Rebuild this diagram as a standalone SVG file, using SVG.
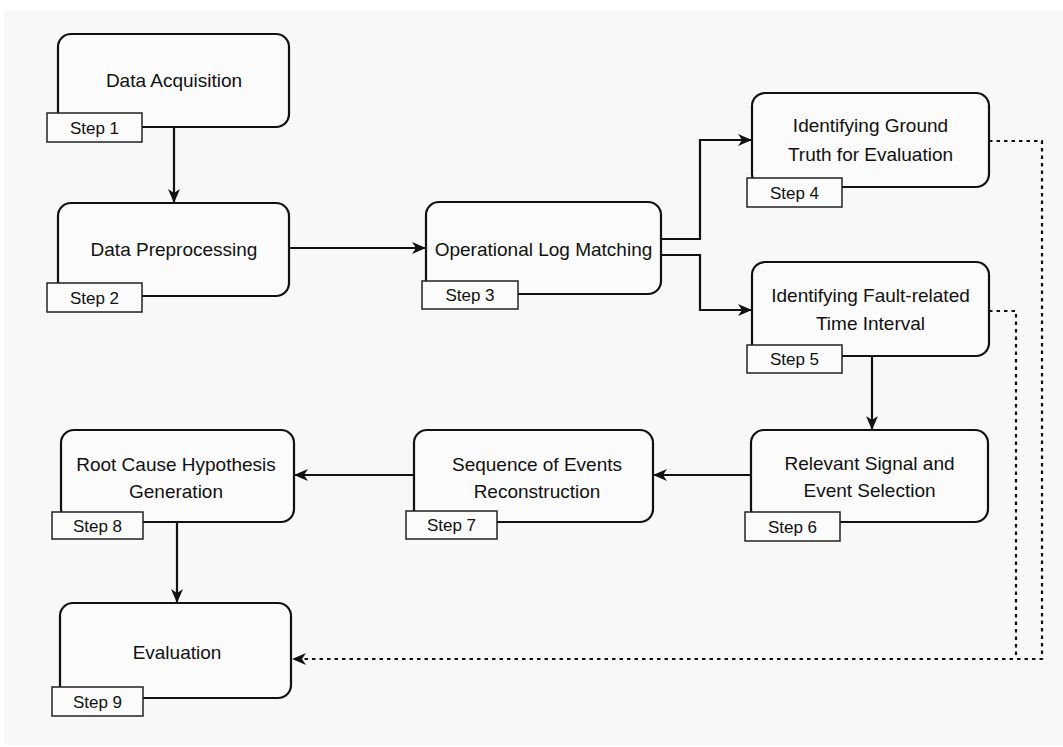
<svg xmlns="http://www.w3.org/2000/svg" width="1063" height="747" viewBox="0 0 1063 747">
<defs>
<style>
.node{fill:#fbfbfb;stroke:#111;stroke-width:2.2}
.step{fill:#fbfbfb;stroke:#222;stroke-width:1.5}
.t{font-family:"Liberation Sans",Arial,sans-serif;font-size:19px;fill:#111;text-anchor:middle}
.s{font-family:"Liberation Sans",Arial,sans-serif;font-size:17px;fill:#111;text-anchor:middle}
.c{fill:none;stroke:#111;stroke-width:2.2}
.d{fill:none;stroke:#111;stroke-width:2.2;stroke-dasharray:3.5 4}
</style>
<marker id="ah" markerUnits="userSpaceOnUse" markerWidth="14" markerHeight="12" refX="13" refY="6" orient="auto">
<path d="M0,0 L14,6 L0,12 L4,6 z" fill="#111"/>
</marker>
</defs>
<rect x="0" y="0" width="1063" height="747" fill="#ffffff"/>
<rect x="4" y="10" width="1059" height="735" fill="#f8f8f8"/>

<g id="connectors">
<path class="c" d="M174,127 V202" marker-end="url(#ah)"/>
<path class="c" d="M289,248 H425" marker-end="url(#ah)"/>
<path class="c" d="M661,239 H700 V140 H751" marker-end="url(#ah)"/>
<path class="c" d="M661,255 H700 V310 H751" marker-end="url(#ah)"/>
<path class="c" d="M872,356 V429" marker-end="url(#ah)"/>
<path class="c" d="M751,475 H654" marker-end="url(#ah)"/>
<path class="c" d="M414,475 H295" marker-end="url(#ah)"/>
<path class="c" d="M177,522 V602" marker-end="url(#ah)"/>
<path class="d" d="M989,141 H1042 V659 H293" marker-end="url(#ah)"/>
<path class="d" d="M989,311 H1016 V659"/>
</g>

<g id="step1">
<rect class="node" x="58" y="34" width="231" height="93" rx="13"/>
<text class="t" x="174" y="87">Data Acquisition</text>
<rect class="step" x="47" y="113" width="95" height="29"/>
<text class="s" x="94.5" y="133.5">Step 1</text>
</g>

<g id="step2">
<rect class="node" x="58" y="203" width="231" height="93" rx="13"/>
<text class="t" x="174" y="256">Data Preprocessing</text>
<rect class="step" x="47" y="283" width="95" height="29"/>
<text class="s" x="94.5" y="303.5">Step 2</text>
</g>

<g id="step3">
<rect class="node" x="426" y="202" width="235" height="92" rx="13"/>
<text class="t" x="543.5" y="256">Operational Log Matching</text>
<rect class="step" x="422" y="281" width="96" height="28"/>
<text class="s" x="470" y="301">Step 3</text>
</g>

<g id="step4">
<rect class="node" x="752" y="93" width="237" height="94" rx="13"/>
<text class="t" x="870.5" y="132">Identifying Ground</text>
<text class="t" x="870.5" y="161">Truth for Evaluation</text>
<rect class="step" x="747" y="178" width="95" height="29"/>
<text class="s" x="794.5" y="198.5">Step 4</text>
</g>

<g id="step5">
<rect class="node" x="752" y="262" width="237" height="94" rx="13"/>
<text class="t" x="870.5" y="302">Identifying Fault-related</text>
<text class="t" x="870.5" y="330">Time Interval</text>
<rect class="step" x="747" y="345" width="95" height="28"/>
<text class="s" x="794.5" y="365">Step 5</text>
</g>

<g id="step6">
<rect class="node" x="751" y="430" width="237" height="92" rx="13"/>
<text class="t" x="869.5" y="470">Relevant Signal and</text>
<text class="t" x="869.5" y="497">Event Selection</text>
<rect class="step" x="745" y="512" width="95" height="29"/>
<text class="s" x="792.5" y="532.5">Step 6</text>
</g>

<g id="step7">
<rect class="node" x="414" y="430" width="239" height="92" rx="13"/>
<text class="t" x="537" y="471">Sequence of Events</text>
<text class="t" x="537" y="498">Reconstruction</text>
<rect class="step" x="406" y="511" width="91" height="28"/>
<text class="s" x="451.5" y="531">Step 7</text>
</g>

<g id="step8">
<rect class="node" x="61" y="430" width="233" height="92" rx="13"/>
<text class="t" x="176" y="471">Root Cause Hypothesis</text>
<text class="t" x="176" y="498">Generation</text>
<rect class="step" x="52" y="512" width="91" height="27"/>
<text class="s" x="97.5" y="531.5">Step 8</text>
</g>

<g id="step9">
<rect class="node" x="60" y="603" width="231" height="95" rx="13"/>
<text class="t" x="177" y="659">Evaluation</text>
<rect class="step" x="52" y="687" width="91" height="29"/>
<text class="s" x="97.5" y="707.5">Step 9</text>
</g>
</svg>
